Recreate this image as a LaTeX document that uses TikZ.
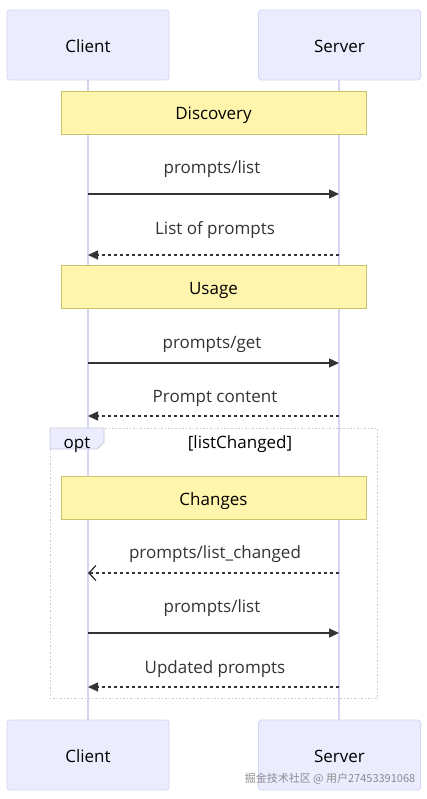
\documentclass[tikz,border=0pt]{standalone}
\usepackage{fontspec}
\setmainfont{Open Sans}
\newfontfamily\cjkfont{Noto Sans CJK SC}
\usetikzlibrary{arrows.meta}
\definecolor{actfill}{HTML}{ECECFF}
\definecolor{actline}{HTML}{D3D3F5}
\definecolor{lifeline}{HTML}{D6D6F2}
\definecolor{notefill}{HTML}{FFF5AD}
\definecolor{noteline}{HTML}{C9C36A}
\definecolor{msgcol}{HTML}{333333}
\definecolor{optline}{HTML}{C8C8D8}
\tikzset{
  txt/.style={font=\fontsize{17}{20}\selectfont, text height=16pt, text depth=1pt},
  actor/.style={txt, draw=actline, fill=actfill, rounded corners=3pt, line width=0.8pt,
    minimum width=162pt, minimum height=70pt, inner sep=0pt, text=black},
  notebox/.style={txt, draw=noteline, fill=notefill, line width=0.8pt,
    minimum width=305pt, minimum height=43pt, inner sep=0pt, text=black},
  msglabel/.style={txt, text=msgcol, inner sep=0pt},
  sync/.style={draw=msgcol, line width=1.3pt, -{Triangle[length=10pt,width=9pt]}},
  reply/.style={draw=msgcol, line width=1.3pt, dash pattern=on 3pt off 3pt, -{Triangle[length=10pt,width=9pt]}},
  async/.style={draw=msgcol, line width=1.3pt, dash pattern=on 3pt off 3pt, -{Straight Barb[length=7pt,width=15pt,line width=1.3pt]}},
  life/.style={draw=lifeline, line width=1.8pt}
}
\begin{document}
\begin{tikzpicture}[x=1pt,y=-1pt]
\useasboundingbox[fill=white] (0,0) rectangle (427,799);
% lifelines
\coordinate (ctop) at (88,80); \coordinate (cbot) at (88,720);
\coordinate (stop) at (339,80); \coordinate (sbot) at (339,720);
\draw[life] (ctop) -- (cbot);
\draw[life] (stop) -- (sbot);
% actors
\node[actor] (clientT) at (88,45) {Client};
\node[actor] (serverT) at (339.5,45) {Server};
\node[actor] (clientB) at (88,755) {Client};
\node[actor] (serverB) at (339.5,755) {Server};
% opt frame
\draw[optline, line width=1pt, dash pattern=on 1.5pt off 2pt] (50,428) rectangle (377,698);
\draw[optline, fill=actfill, line width=0.8pt] (50,428) -- (104,428) -- (104,442) -- (97,449) -- (50,449) -- cycle;
\node[msglabel, text=black] (optlbl) at (77,441) {opt};
\node[msglabel, text=black] (cond) at (240,441) {[listChanged]};
% notes
\node[notebox] (disc) at (213.5,112.5) {Discovery};
\node[notebox] (usage) at (213.5,287) {Usage};
\node[notebox] (chg) at (213.5,497.5) {Changes};
% messages
\coordinate (c1) at (88,194); \coordinate (s1) at (339,194);
\coordinate (c2) at (88,255); \coordinate (s2) at (339,255);
\coordinate (c3) at (88,363); \coordinate (s3) at (339,363);
\coordinate (c4) at (88,416); \coordinate (s4) at (339,416);
\coordinate (c5) at (88,573); \coordinate (s5) at (339,573);
\coordinate (c6) at (88,633); \coordinate (s6) at (339,633);
\coordinate (c7) at (88,687); \coordinate (s7) at (339,687);
\node[msglabel] (l1) at (212,166) {prompts/list};
\draw[sync] (c1) -- (s1);
\node[msglabel] (l2) at (215,227) {List of prompts};
\draw[reply] (s2) -- (c2);
\node[msglabel] (l3) at (212,341) {prompts/get};
\draw[sync] (c3) -- (s3);
\node[msglabel] (l4) at (215,395) {Prompt content};
\draw[reply] (s4) -- (c4);
\node[msglabel] (l5) at (215,551) {prompts/list\_changed};
\draw[async] (s5) -- (c5);
\node[msglabel] (l6) at (212,605) {prompts/list};
\draw[sync] (c6) -- (s6);
\node[msglabel] (l7) at (215,666) {Updated prompts};
\draw[reply] (s7) -- (c7);
% watermark
\node[inner sep=0pt, text=black!55, opacity=0.8, font=\cjkfont\fontsize{11}{12}\selectfont] (wm) at (330,779) {掘金技术社区 @ 用户27453391068};
\end{tikzpicture}
\end{document}
